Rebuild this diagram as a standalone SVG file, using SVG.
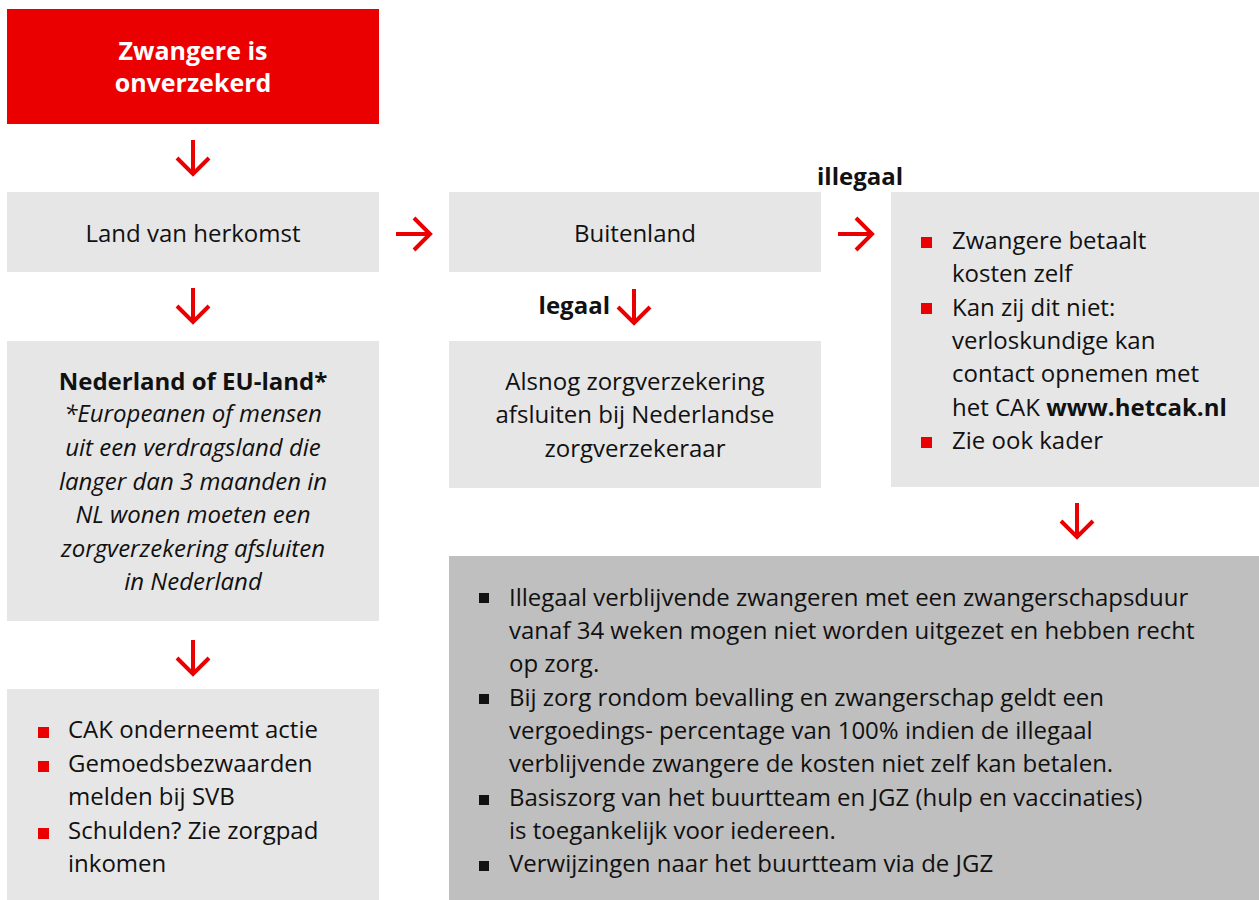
<svg xmlns="http://www.w3.org/2000/svg" width="1259" height="900" viewBox="0 0 1259 900">
<defs>
<style>
.box{fill:#E6E6E6}
.dark{fill:#BFBFBF}
.red{fill:#EA0000}
text{font-family:"Open Sans","Noto Sans","Liberation Sans",sans-serif;font-size:24px;fill:#111}
.c{text-anchor:middle}
.b{font-weight:bold}
.i{font-style:italic}
.w{fill:#fff;font-weight:bold;font-size:25px}
.arr{fill:none;stroke:#EA0000;stroke-width:4}
.rb{fill:#EA0000}
.kb{fill:#111}
</style>
</defs>
<rect width="1259" height="900" fill="#fff"/>
<g id="n-start">
<rect class="red" x="7" y="9" width="372" height="115"/>
<text class="w c" x="193" y="60">Zwangere is</text>
<text class="w c" x="193" y="92">onverzekerd</text>
</g>
<g id="n-land">
<rect class="box" x="7" y="192" width="372" height="80"/>
<text class="c" x="193" y="242">Land van herkomst</text>
</g>
<g id="n-nl">
<rect class="box" x="7" y="341" width="372" height="280"/>
<text class="c b" x="193" y="390">Nederland of EU-land*</text>
<text class="c i" x="193" y="422">*Europeanen of mensen</text>
<text class="c i" x="193" y="456">uit een verdragsland die</text>
<text class="c i" x="193" y="490">langer dan 3 maanden in</text>
<text class="c i" x="193" y="523">NL wonen moeten een</text>
<text class="c i" x="193" y="557">zorgverzekering afsluiten</text>
<text class="c i" x="193" y="590">in Nederland</text>
</g>
<g id="n-cak">
<rect class="box" x="7" y="689" width="372" height="211"/>
<rect class="rb" x="38" y="727" width="11" height="11"/>
<rect class="rb" x="38" y="761" width="11" height="11"/>
<rect class="rb" x="38" y="828" width="11" height="11"/>
<text x="68" y="738">CAK onderneemt actie</text>
<text x="68" y="772">Gemoedsbezwaarden</text>
<text x="68" y="805">melden bij SVB</text>
<text x="68" y="839">Schulden? Zie zorgpad</text>
<text x="68" y="872">inkomen</text>
</g>
<g id="n-buitenland">
<rect class="box" x="449" y="192" width="372" height="80"/>
<text class="c" x="635" y="242">Buitenland</text>
</g>
<g id="n-alsnog">
<rect class="box" x="449" y="341" width="372" height="147"/>
<text class="c" x="635" y="390">Alsnog zorgverzekering</text>
<text class="c" x="635" y="423">afsluiten bij Nederlandse</text>
<text class="c" x="635" y="457">zorgverzekeraar</text>
</g>
<g id="n-illegaal">
<rect class="box" x="891" y="192" width="368" height="295"/>
<rect class="rb" x="921" y="237" width="11" height="11"/>
<rect class="rb" x="921" y="303" width="11" height="11"/>
<rect class="rb" x="921" y="437" width="11" height="11"/>
<text x="952" y="249">Zwangere betaalt</text>
<text x="952" y="282">kosten zelf</text>
<text x="952" y="316">Kan zij dit niet:</text>
<text x="952" y="349">verloskundige kan</text>
<text x="952" y="382">contact opnemen met</text>
<text x="952" y="416">het CAK <tspan class="b">www.hetcak.nl</tspan></text>
<text x="952" y="449">Zie ook kader</text>
</g>
<g id="n-kader">
<rect class="dark" x="449" y="556" width="810" height="344"/>
<rect class="kb" x="479" y="593" width="10" height="10"/>
<rect class="kb" x="479" y="694" width="10" height="10"/>
<rect class="kb" x="479" y="795" width="10" height="10"/>
<rect class="kb" x="479" y="861" width="10" height="10"/>
<text x="509" y="606">Illegaal verblijvende zwangeren met een zwangerschapsduur</text>
<text x="509" y="639">vanaf 34 weken mogen niet worden uitgezet en hebben recht</text>
<text x="509" y="672">op zorg.</text>
<text x="509" y="706">Bij zorg rondom bevalling en zwangerschap geldt een</text>
<text x="509" y="739">vergoedings- percentage van 100% indien de illegaal</text>
<text x="509" y="772">verblijvende zwangere de kosten niet zelf kan betalen.</text>
<text x="509" y="806">Basiszorg van het buurtteam en JGZ (hulp en vaccinaties)</text>
<text x="509" y="839">is toegankelijk voor iedereen.</text>
<text x="509" y="872">Verwijzingen naar het buurtteam via de JGZ</text>
</g>
<g id="labels">
<text class="b" x="610" y="314" text-anchor="end">legaal</text>
<text class="b" x="817" y="185">illegaal</text>
</g>
<g id="connectors">
<path class="arr" d="M193 140V174M177 158L193 174L209 158"/>
<path class="arr" d="M193 288V322M177 306L193 322L209 306"/>
<path class="arr" d="M193 640V674M177 658L193 674L209 658"/>
<path class="arr" d="M396 234H430M414 218L430 234L414 250"/>
<path class="arr" d="M838 234H872M856 218L872 234L856 250"/>
<path class="arr" d="M634 289V323M618 307L634 323L650 307"/>
<path class="arr" d="M1077 503V537M1061 521L1077 537L1093 521"/>
</g>
</svg>
